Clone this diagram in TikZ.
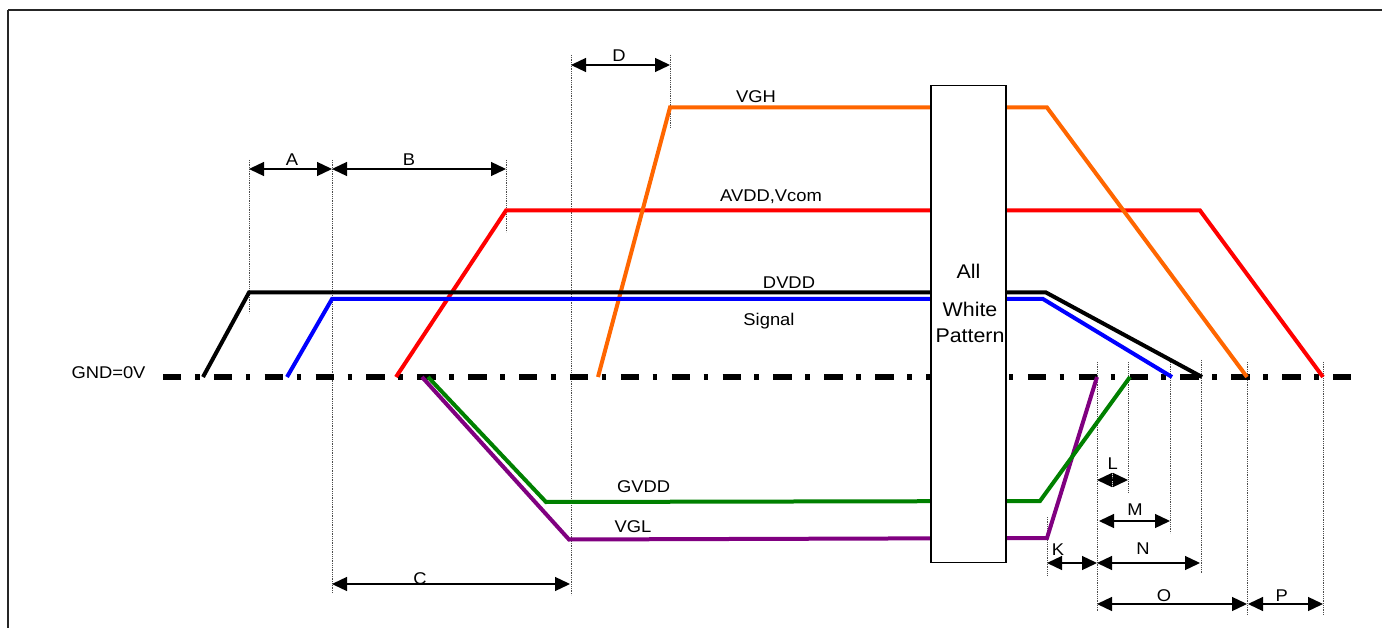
\documentclass[tikz,border=0pt]{standalone}
\usepackage{fontspec}
\setmainfont{Liberation Sans}[FakeStretch=1.08]
\usetikzlibrary{arrows.meta}
\definecolor{cvgh}{RGB}{255,102,0}
\definecolor{cavdd}{RGB}{255,0,0}
\definecolor{cdvdd}{RGB}{0,0,0}
\definecolor{csig}{RGB}{0,0,255}
\definecolor{cgvdd}{RGB}{0,128,0}
\definecolor{cvgl}{RGB}{128,0,128}
\tikzset{
  frameline/.style={line width=2pt, black!85},
  sigline/.style={line width=4pt, line join=miter},
  gndline/.style={line width=5pt, dash pattern=on 18.4pt off 13.5pt on 4.6pt off 14.37pt},
  guide/.style={line width=0.8pt, densely dotted, black!70},
  dimarrow/.style={line width=1.3pt, {Triangle[length=15pt,width=14pt]}-{Triangle[length=15pt,width=14pt]}},
  lbl/.style={anchor=base, inner sep=0pt, font=\fontsize{17}{20}\selectfont},
  boxtxt/.style={anchor=base, inner sep=0pt, font=\fontsize{19.8}{22}\selectfont},
}
\begin{document}
\begin{tikzpicture}[x=1pt,y=-1pt]
\useasboundingbox (0,0) rectangle (1382,628);
\fill[white] (0,0) rectangle (1382,628);
% frame
\draw[frameline] (8,10) -- (1400,10);
\draw[frameline] (8,10) -- (8,640);

% guides
\draw[guide] (249,160) -- (249,313);
\draw[guide] (332,160) -- (332,593);
\draw[guide] (506,160) -- (506,232);
\draw[guide] (571,55) -- (571,595);
\draw[guide] (670,55) -- (670,128);
\draw[guide] (1047,517) -- (1047,575);
\draw[guide] (1097,362) -- (1097,612);
\draw[guide] (1128,362) -- (1128,492);
\draw[guide] (1170,362) -- (1170,533);
\draw[guide] (1201,360) -- (1201,573);
\draw[guide] (1247,362) -- (1247,615);
\draw[guide] (1323,362) -- (1323,615);
\draw[guide] (1112,473) -- (1112,487);

% ground
\draw[gndline] (163,377) -- (1356,377);

% signals
\draw[sigline, cvgl] (422,377) -- (569,539.5) -- (1047,538) -- (1097,377);
\draw[sigline, cgvdd] (428,377) -- (546,502) -- (1040,501) -- (1130,377);
\draw[sigline, cavdd] (396,377) -- (506,210.5) -- (1200,210.5) -- (1323,377);
\draw[sigline, cvgh] (598,377) -- (670,107.5) -- (1047,107.5) -- (1247,377);
\draw[sigline, csig] (287,377) -- (332,299) -- (1043,299) -- (1172,377);
\draw[sigline, cdvdd] (203,377) -- (249,292.5) -- (1046,292.5) -- (1202,377);

% box
\node[draw, line width=1.3pt, fill=white, minimum width=75pt, minimum height=477pt, inner sep=0pt] (box) at (968.5,324) {};
\node[boxtxt] (tall) at (968.5,278.3) {All};
\node[boxtxt] (twhite) at (970,316.7) {White};
\node[boxtxt] (tpattern) at (970,342.7) {Pattern};

% signal labels
\node[lbl] (lgnd) at (108.5,378.3) {GND=0V};
\node[lbl] (lvgh) at (756,102.7) {VGH};
\node[lbl] (lavdd) at (771,201.7) {AVDD,Vcom};
\node[lbl] (ldvdd) at (789,288.3) {DVDD};
\node[lbl] (lsig) at (769,326) {Signal};
\node[lbl] (lgvdd) at (643.7,492.7) {GVDD};
\node[lbl] (lvgl) at (633,532.7) {VGL};

% dimension ends
\coordinate (a1) at (249,169); \coordinate (a2) at (332,169);
\coordinate (b1) at (332,169); \coordinate (b2) at (506,169);
\coordinate (d1) at (571,65);  \coordinate (d2) at (670,65);
\coordinate (c1) at (332,584); \coordinate (c2) at (570,584);
\coordinate (k1) at (1047,563); \coordinate (k2) at (1097,563);
\coordinate (n1) at (1097,563); \coordinate (n2) at (1200,563);
\coordinate (l1) at (1097,480); \coordinate (l2) at (1128,480);
\coordinate (m1) at (1099,521); \coordinate (m2) at (1170,521);
\coordinate (o1) at (1097,604); \coordinate (o2) at (1247,604);
\coordinate (p1) at (1248,604); \coordinate (p2) at (1323,604);

\draw[dimarrow] (a1) -- (a2);
\draw[dimarrow] (b1) -- (b2);
\draw[dimarrow] (d1) -- (d2);
\draw[dimarrow] (c1) -- (c2);
\draw[dimarrow] (k1) -- (k2);
\draw[dimarrow] (n1) -- (n2);
\draw[dimarrow] (l1) -- (l2);
\draw[dimarrow] (m1) -- (m2);
\draw[dimarrow] (o1) -- (o2);
\draw[dimarrow] (p1) -- (p2);

\node[lbl] (la) at (292,165.7) {A};
\node[lbl] (lb) at (409,165.7) {B};
\node[lbl] (lc) at (420,584) {C};
\node[lbl] (ld) at (619,61.7) {D};
\node[lbl] (lk) at (1058,555) {K};
\node[lbl] (ll) at (1112.7,469) {L};
\node[lbl] (lm) at (1135,515) {M};
\node[lbl] (ln) at (1143,554) {N};
\node[lbl] (lo) at (1164,601.7) {O};
\node[lbl] (lp) at (1281.7,601.7) {P};
\end{tikzpicture}
\end{document}
